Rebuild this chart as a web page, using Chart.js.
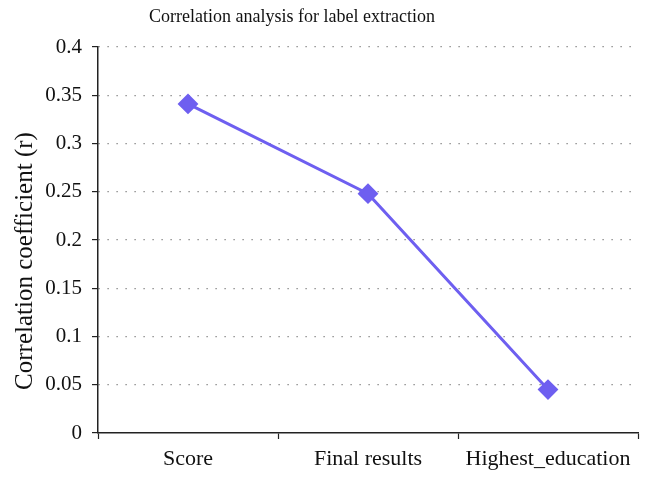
<!DOCTYPE html>
<html>
<head>
<meta charset="utf-8">
<script src="https://cdn.jsdelivr.net/npm/chart.js@4.4.1/dist/chart.umd.min.js"></script>
<style>
  html, body { margin: 0; padding: 0; background: #fff; }
  #wrap { width: 654px; height: 484px; position: relative; }
</style>
</head>
<body>
<div id="wrap"><canvas id="corrChart" width="654" height="484"></canvas></div>
<script>
const categories = ['Score', 'Final results', 'Highest_education'];
const corrValues = [0.341, 0.248, 0.045];
const chartTitle = 'Correlation analysis for label extraction';
const yTitle = 'Correlation coefficient (r)';

const serif = '"Liberation Serif", "DejaVu Serif", serif';
const lineColor = '#6e5ff0';

// titles drawn by hand so they sit off-centre like the original
const titlePlugin = {
  id: 'offsetTitles',
  afterDraw(chart) {
    const ctx = chart.ctx;
    ctx.save();
    ctx.fillStyle = '#111';
    ctx.textAlign = 'center';
    ctx.textBaseline = 'middle';
    ctx.font = '18px ' + serif;
    ctx.fillText(chartTitle, 292, 17);
    ctx.translate(25, 261);
    ctx.rotate(-Math.PI / 2);
    ctx.font = '25px ' + serif;
    ctx.fillText(yTitle, 0, 0);
    ctx.restore();
  }
};

const ctx = document.getElementById('corrChart').getContext('2d');
new Chart(ctx, {
  type: 'line',
  data: {
    labels: categories,
    datasets: [{
      data: corrValues,
      borderColor: lineColor,
      backgroundColor: lineColor,
      borderWidth: 3,
      pointStyle: 'rectRot',
      pointRadius: 9,
      pointBorderWidth: 2,
      tension: 0
    }]
  },
  options: {
    responsive: false,
    animation: false,
    layout: { padding: { top: 47, right: 16, left: 0, bottom: 0 } },
    plugins: {
      legend: { display: false },
      tooltip: { enabled: false }
    },
    scales: {
      x: {
        offset: true,
        grid: {
          offset: true,
          drawOnChartArea: false,
          drawTicks: true,
          tickLength: 6,
          tickColor: '#222',
          tickWidth: 1.2
        },
        border: { color: '#222', width: 1.5 },
        ticks: {
          color: '#111',
          padding: 7,
          maxRotation: 0,
          autoSkip: false,
          font: { family: serif, size: 22 }
        },
        afterFit(scale) { scale.height = 51; }
      },
      y: {
        min: 0,
        max: 0.4,
        ticks: {
          stepSize: 0.05,
          autoSkip: false,
          color: '#111',
          padding: 10,
          font: { family: serif, size: 21 },
          callback: v => +v.toFixed(2)
        },
        grid: {
          color: c => c.tick && c.tick.value === 0 ? 'rgba(0,0,0,0)' : '#777',
          lineWidth: 1.2,
          tickLength: 6,
          tickColor: '#222',
          tickWidth: 1.2,
          tickBorderDash: []
        },
        border: { color: '#222', width: 1.5, dash: [1.2, 7.8] },
        afterFit(scale) { scale.width = 98; }
      }
    }
  },
  plugins: [titlePlugin]
});
</script>
</body>
</html>
